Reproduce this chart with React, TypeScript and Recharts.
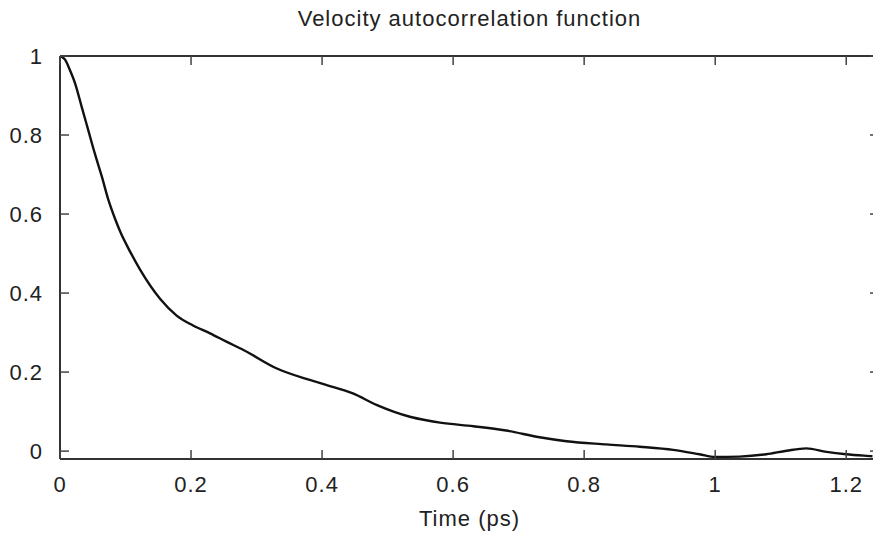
import React from 'react';
import { LineChart, Line, XAxis, YAxis, Label } from 'recharts';

// time (ps) and normalised VACF
const times = [
  0, 0.008, 0.015, 0.023, 0.033, 0.043, 0.053, 0.064, 0.074, 0.084, 0.092, 0.107, 0.122, 0.153, 0.178,
  0.203, 0.229, 0.254, 0.28, 0.331, 0.381, 0.407, 0.447, 0.483, 0.509, 0.534, 0.559, 0.58, 0.631, 0.681,
  0.732, 0.773, 0.834, 0.885, 0.936, 0.976, 1.0, 1.037, 1.078, 1.109, 1.139, 1.17, 1.2, 1.231, 1.24,
];
const vacf = [
  1.0, 0.99, 0.965, 0.931, 0.872, 0.813, 0.754, 0.694, 0.635, 0.588, 0.555, 0.505, 0.46, 0.385, 0.343,
  0.318, 0.298, 0.277, 0.256, 0.209, 0.18, 0.167, 0.146, 0.117, 0.1, 0.087, 0.078, 0.072, 0.063, 0.052,
  0.035, 0.025, 0.017, 0.011, 0.003, -0.008, -0.015, -0.014, -0.008, 0.001, 0.007, -0.002, -0.008, -0.012, -0.013,
];
const xTicks = [0, 0.2, 0.4, 0.6, 0.8, 1, 1.2];
const yTicks = [0, 0.2, 0.4, 0.6, 0.8, 1];

const data = times.map((t, i) => ({ t, v: vacf[i] }));

const TEXT = '#222';
const FS = 22;
const TICK_LEN = 9;
const GAP = 17;
const axisLine = { stroke: '#333', strokeWidth: 2 };
const tickStroke = { stroke: '#444', strokeWidth: 1.5 };

// gnuplot style: tick marks point into the plot, labels sit outside
function LeftTick(props: any) {
  const { x, y, payload } = props;
  return (
    <g>
      <line x1={x + GAP} x2={x + GAP + TICK_LEN} y1={y} y2={y} {...tickStroke} />
      <text x={x} y={y} dy="0.355em" textAnchor="end" fill={TEXT} fontSize={FS}>
        {String(payload.value)}
      </text>
    </g>
  );
}

function BottomTick(props: any) {
  const { x, y, payload } = props;
  return (
    <g>
      <line x1={x} x2={x} y1={y - GAP} y2={y - GAP - TICK_LEN} {...tickStroke} />
      <text x={x} y={y} dy="0.71em" textAnchor="middle" fill={TEXT} fontSize={FS}>
        {String(payload.value)}
      </text>
    </g>
  );
}

function TopTick(props: any) {
  const { x, y } = props;
  return <line x1={x} x2={x} y1={y} y2={y + TICK_LEN} {...tickStroke} />;
}

function RightTick(props: any) {
  const { x, y } = props;
  return <line x1={x} x2={x - TICK_LEN} y1={y} y2={y} {...tickStroke} />;
}

export default function App() {
  return (
    <div
      style={{
        position: 'fixed',
        left: 0,
        top: 0,
        width: 873,
        height: 535,
        overflow: 'hidden',
        background: '#fff',
        fontFamily: '"Liberation Sans", Arial, sans-serif',
        letterSpacing: 1,
      }}
    >
      <LineChart width={890} height={535} data={data} margin={{ top: 55, right: 10, bottom: 0, left: 0 }}>
        <XAxis
          dataKey="t"
          type="number"
          domain={[0, 1.25]}
          ticks={xTicks}
          allowDataOverflow
          height={76}
          tickSize={0}
          tickMargin={GAP}
          tick={<BottomTick />}
          tickLine={false}
          axisLine={axisLine}
        >
          <Label value="Time (ps)" position="insideBottom" offset={9} fill={TEXT} fontSize={FS} />
        </XAxis>
        <XAxis
          xAxisId="top"
          orientation="top"
          dataKey="t"
          type="number"
          domain={[0, 1.25]}
          ticks={xTicks}
          allowDataOverflow
          height={1}
          tickSize={0}
          tickMargin={0}
          tick={<TopTick />}
          tickLine={false}
          axisLine={axisLine}
        >
          <Label value="Velocity autocorrelation function" position="top" offset={29} fill={TEXT} fontSize={FS} />
        </XAxis>
        <YAxis
          type="number"
          domain={[-0.02, 1]}
          ticks={yTicks}
          allowDataOverflow
          width={60}
          tickSize={0}
          tickMargin={GAP}
          tick={<LeftTick />}
          tickLine={false}
          axisLine={axisLine}
        />
        <YAxis
          yAxisId="right"
          orientation="right"
          type="number"
          domain={[-0.02, 1]}
          ticks={yTicks}
          allowDataOverflow
          width={1}
          tickSize={0}
          tickMargin={0}
          tick={<RightTick />}
          tickLine={false}
          axisLine={false}
        />
        <Line
          dataKey="v"
          type="monotone"
          stroke="#111"
          strokeWidth={2.4}
          dot={false}
          isAnimationActive={false}
        />
      </LineChart>
    </div>
  );
}
